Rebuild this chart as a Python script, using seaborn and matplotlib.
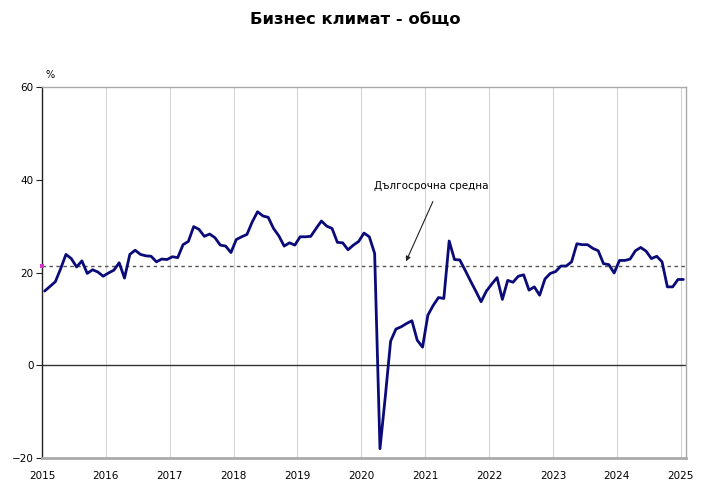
import numpy as np
import pandas as pd
import seaborn as sns
import matplotlib
matplotlib.use('Agg')
import matplotlib.pyplot as plt

# DATOS: bizness klimat, mesechni stoinosti (%) ot yanuari 2015 do yanuari 2025
start_month = '2015-01'
klimat = [16.0, 17.0, 18.0, 20.8, 23.9, 23.0, 21.2, 22.5, 19.8, 20.6, 20.1, 19.2,
          19.9, 20.5, 22.1, 18.8, 23.9, 24.8, 23.9, 23.6, 23.5, 22.3, 22.9, 22.8,
          23.4, 23.2, 26.0, 26.7, 29.9, 29.3, 27.8, 28.3, 27.5, 25.9, 25.7, 24.3,
          27.1, 27.7, 28.2, 30.9, 33.1, 32.2, 31.9, 29.5, 27.9, 25.7, 26.4, 25.9,
          27.7, 27.7, 27.8, 29.5, 31.1, 30.0, 29.5, 26.5, 26.4, 24.9, 25.9, 26.7,
          28.5, 27.7, 24.1, -18.0, -6.8, 5.2, 7.8, 8.3, 9.0, 9.6, 5.4, 3.9,
          10.8, 12.9, 14.6, 14.4, 26.8, 22.8, 22.7, 20.5, 18.2, 16.0, 13.7, 16.0,
          17.5, 18.9, 14.2, 18.3, 17.9, 19.2, 19.5, 16.2, 16.9, 15.1, 18.6, 19.8,
          20.2, 21.4, 21.4, 22.3, 26.2, 26.0, 26.0, 25.2, 24.7, 21.9, 21.7, 19.9,
          22.6, 22.6, 22.9, 24.7, 25.4, 24.6, 23.0, 23.5, 22.3, 16.9, 16.9, 18.5,
          18.5]
sredna = 21.5
godini = list(range(2015, 2026))
y_ticks = [-20, 0, 20, 40, 60]

# AQUI ARMAMOS LA TABLA (mes -> año decimal, a mitad de mes)
meses = pd.period_range(start_month, periods=len(klimat), freq='M')
df = pd.DataFrame({'x': meses.year + (meses.month - 0.5) / 12, 'klimat': klimat})

sns.set_style('white')
plt.rcParams['font.family'] = ['DejaVu Sans']
plt.rcParams['text.color'] = 'black'
plt.rcParams['xtick.color'] = 'black'
plt.rcParams['ytick.color'] = 'black'

fig = plt.figure(figsize=(7.14, 4.99), dpi=100)
ax = fig.add_axes([42 / 714, 1 - 458 / 499, 644 / 714, 371 / 499])

# lineas de fondo
for g in godini:
    ax.axvline(g, color='#d4d4d4', lw=0.8, zorder=0)
ax.axhline(0, color='#333333', lw=1.0, zorder=1)
ax.axhline(sredna, color='#555555', lw=1.0, ls=(0, (2.5, 2.5)), zorder=1)
ax.plot([2015], [sredna], marker='s', ms=3.0, mew=0, color='#d633c8', clip_on=False, zorder=6)

sns.lineplot(data=df, x='x', y='klimat', ax=ax, color='#0a0a78', lw=2.0, zorder=3)

ax.set_xlim(2015, 2025 + 1 / 12)
ax.set_ylim(-20, 60)
ax.set_xticks(godini)
ax.set_xticklabels([str(g) for g in godini])
ax.set_yticks(y_ticks)
ax.set_xlabel('')
ax.set_ylabel('')
ax.tick_params(axis='y', which='both', left=True, length=4, width=0.8, labelsize=7.5, pad=2, color='#222222')
ax.tick_params(axis='x', which='both', bottom=False, labelsize=7.5, pad=6)

for s in ['top', 'right']:
    ax.spines[s].set_color('#aaaaaa')
    ax.spines[s].set_linewidth(1.0)
ax.spines['bottom'].set_color('#aaaaaa')
ax.spines['bottom'].set_linewidth(2.0)
ax.spines['left'].set_color('#222222')
ax.spines['left'].set_linewidth(1.0)

# textos
fig.text(0.497, 1 - 20 / 499, 'Бизнес климат - общо', ha='center', va='center',
         fontsize=11.8, fontweight='bold', color='black')
ax.text(2015.05, 62.5, '%', fontsize=7, ha='left', va='center', clip_on=False)
ax.text(2021.1, 38.6, 'Дългосрочна средна', fontsize=7.5, ha='center', va='center')
ax.annotate('', xy=(2020.7, 22.4), xytext=(2021.12, 35.3),
            arrowprops=dict(arrowstyle='-|>', color='#222222', lw=0.8,
                            mutation_scale=7, shrinkA=0, shrinkB=0))

fig.savefig('out.png', dpi=100)
